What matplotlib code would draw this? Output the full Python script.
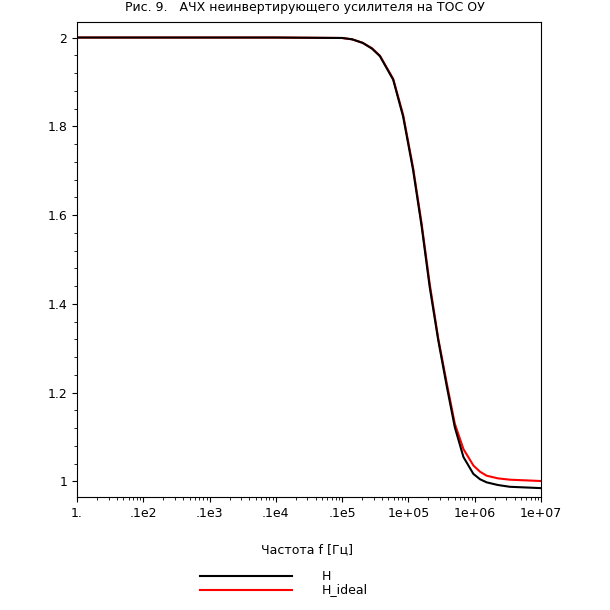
import matplotlib
matplotlib.use("Agg")
import matplotlib.pyplot as plt
from matplotlib.ticker import FixedLocator, LogLocator, NullFormatter

log_f = [0, 1, 2, 3, 4, 4.15, 4.31, 4.45, 4.57, 4.77, 4.92, 5.07, 5.20, 5.32, 5.45, 5.58, 5.70, 5.83, 5.98, 6.08, 6.18, 6.35, 6.53, 7.0]
H = [2.0, 2.0, 2.0, 2.0, 1.999, 1.996, 1.988, 1.975, 1.958, 1.905, 1.822, 1.702, 1.574, 1.439, 1.318, 1.213, 1.122, 1.055, 1.017, 1.005, 0.998, 0.992, 0.988, 0.985]
H_ideal = [2.0, 2.0, 2.0, 2.0, 1.999, 1.996, 1.988, 1.976, 1.959, 1.907, 1.826, 1.707, 1.580, 1.446, 1.322, 1.220, 1.130, 1.073, 1.036, 1.022, 1.013, 1.007, 1.004, 1.001]
xtick_labels = ["1.", ".1e2", ".1e3", ".1e4", ".1e5", "1e+05", "1e+06", "1e+07"]
f = [10 ** v for v in log_f]

fig = plt.figure(figsize=(6.1, 6.1), dpi=100)
ax = fig.add_axes([77/610, 1-497/610, 464/610, 475/610])
ax.plot(f, H_ideal, color="red", lw=1.5)
ax.plot(f, H, color="black", lw=1.5)
ax.set_xscale("log")
ax.set_xlim(1, 1e7)
ax.set_ylim(0.965, 2.035)
ax.xaxis.set_major_locator(FixedLocator([10 ** i for i in range(8)]))
ax.set_xticklabels(xtick_labels)
ax.xaxis.set_minor_locator(LogLocator(base=10, subs=range(2, 10), numticks=20))
ax.xaxis.set_minor_formatter(NullFormatter())
ax.set_yticks([1, 1.2, 1.4, 1.6, 1.8, 2.0])
ax.set_yticklabels(["1", "1.2", "1.4", "1.6", "1.8", "2"])
ax.set_yticks([1 + 0.04 * i for i in range(26)], minor=True)
ax.tick_params(labelsize=9, direction="out")
ax.tick_params(which="minor", length=2)
fig.text(305/610, 1-8/610, "Рис. 9.   АЧХ неинвертирующего усилителя на ТОС ОУ", fontsize=9, ha="center", va="center")
fig.text(307/610, 1-550/610, "Частота f [Гц]", fontsize=9, ha="center", va="center")
for yy, col, lab in [(576, "black", "H"), (590, "red", "H_ideal")]:
    fig.add_artist(plt.Line2D([200/610, 292/610], [1-yy/610, 1-yy/610], color=col, lw=1.5))
    fig.text(322/610, 1-yy/610, lab, fontsize=9, va="center")
fig.savefig("out.png", dpi=100)
